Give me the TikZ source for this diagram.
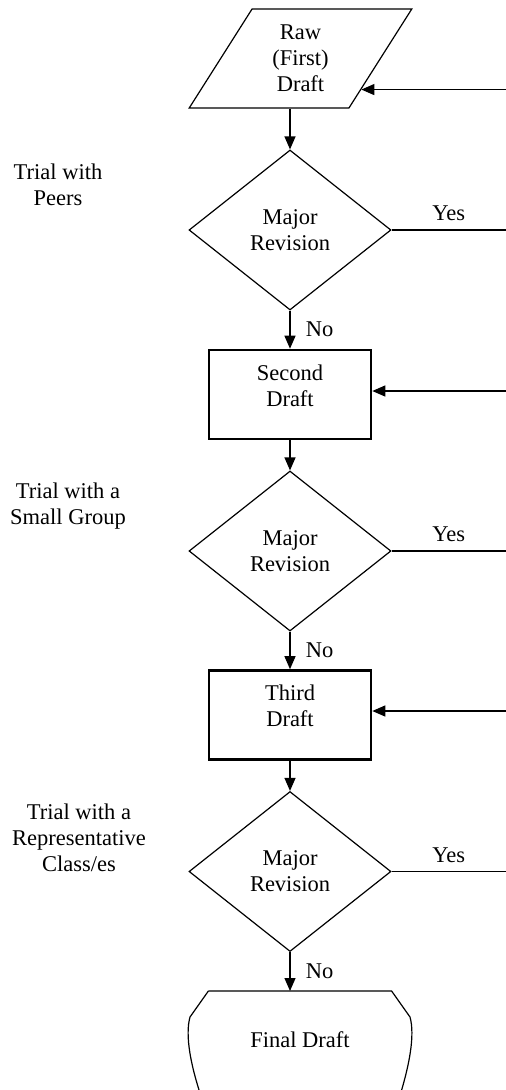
\documentclass[tikz,border=0pt]{standalone}
\usepackage{fontspec}
\setmainfont{Liberation Serif}
\usetikzlibrary{shapes.geometric,arrows.meta,calc}

\begin{document}
\begin{tikzpicture}[x=1bp,y=-1bp,line width=1.2bp,>={Triangle[length=13bp,width=11bp]},
  every node/.style={font=\fontsize{22.5bp}{26bp}\selectfont,align=center},
  rombe/.style={diamond,draw,minimum width=202bp,minimum height=160bp,inner sep=0pt},
  boite/.style={rectangle,draw,line width=2.6bp,minimum width=162bp,minimum height=89bp,text depth=18bp}]
\useasboundingbox (0,0) rectangle (506,1090);
\clip (0,0) rectangle (506,1090);

\node[trapezium,draw,trapezium left angle=61,trapezium right angle=119,trapezium stretches=true,
  minimum width=223bp,minimum height=99bp] (raw) at (300.5,58.5) {Raw\\(First)\\Draft};
\node[rombe] (rev1) at (290,230) {Major\\Revision};
\node[boite] (second) at (290,394.5) {Second\\Draft};
\node[rombe] (rev2) at (290,551) {Major\\Revision};
\node[boite] (third) at (290,715) {Third\\Draft};
\node[rombe] (rev3) at (290,871.5) {Major\\Revision};
\node[minimum width=182bp,minimum height=96bp,anchor=north] (final) at (300,991) {Final Draft};

\node (peers) at (58,185) {Trial with\\Peers};
\node (small) at (68,506) {Trial with a\\Small Group};
\node (repr) at (79,838) {Trial with a\\Representative\\Class/es};

\coordinate (edge) at (506,0);
\coordinate (hit) at ($(raw.top right corner)!0.81!(raw.bottom right corner)$);
\coordinate (back2) at (506,391);
\coordinate (back3) at (506,711);

\draw [->] (rev1.north |- raw.south) -- (rev1.north);
\draw [->] (rev1.south) -- node[right=12bp]{No} (second.north);
\draw [->] (second.south) -- (rev2.north);
\draw [->] (rev2.south) -- node[right=12bp]{No} (third.north);
\draw [->] (third.south) -- (rev3.north);
\draw [->] (rev3.south) -- node[right=12bp]{No} (rev3.south |- final.north);

\draw (rev1.east) -- node[above=5bp]{Yes} (rev1.east -| edge);
\draw (rev2.east) -- node[above=5bp]{Yes} (rev2.east -| edge);
\draw (rev3.east) -- node[above=5bp]{Yes} (rev3.east -| edge);

\draw [->] (hit -| edge) -- (hit);
\draw [->] (back2) -- (back2 -| second.east);
\draw [->] (back3) -- (back3 -| third.east);

\draw (final.north west) -- (final.north east) -- (410,1017) .. controls (415,1035) and (410,1065) .. (397,1105);
\draw (final.north west) -- (190,1017) .. controls (185,1035) and (190,1065) .. (204,1105);

\end{tikzpicture}
\end{document}
